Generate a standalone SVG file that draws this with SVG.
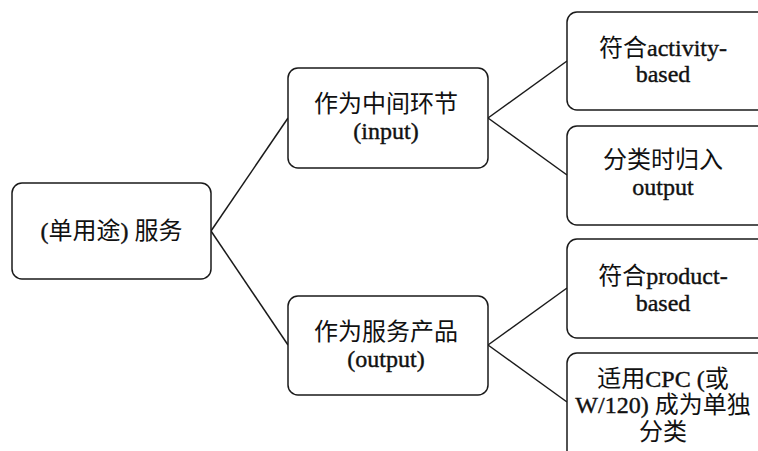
<svg xmlns="http://www.w3.org/2000/svg" width="758" height="451" viewBox="0 0 758 451">
<style>
.box{fill:#fff;stroke:#1a1a1a;stroke-width:1.5}
.t{font-family:"Liberation Serif","Noto Sans CJK SC",serif;font-size:24px;fill:#111;text-anchor:middle}
.l{stroke:#111;stroke-width:0.4}
.c{fill:none;stroke:#1a1a1a;stroke-width:1.5}
</style>
<rect width="758" height="451" fill="#fff"/>
<g id="connectors">
<path class="c" d="M211,231 L288,118"/>
<path class="c" d="M211,231 L288,345"/>
<path class="c" d="M488,118 L567,61"/>
<path class="c" d="M488,118 L567,175"/>
<path class="c" d="M488,345 L567,288"/>
<path class="c" d="M488,345 L567,402"/>
</g>
<g id="root">
<rect class="box" x="12" y="183" width="199" height="96" rx="10"/>
<text class="t" x="111.5" y="239"><tspan class="l">(</tspan>单用途<tspan class="l">)</tspan> 服务</text>
</g>
<g id="input">
<rect class="box" x="288" y="68" width="200" height="100" rx="10"/>
<text class="t" x="386" y="112">作为中间环节</text>
<text class="t l" x="386" y="139">(input)</text>
</g>
<g id="output">
<rect class="box" x="288" y="296" width="200" height="99" rx="10"/>
<text class="t" x="386" y="340">作为服务产品</text>
<text class="t l" x="386" y="367">(output)</text>
</g>
<g id="leaf1">
<rect class="box" x="567" y="12" width="200" height="98" rx="10"/>
<text class="t" x="663" y="56">符合<tspan class="l">activity-</tspan></text>
<text class="t l" x="663" y="82">based</text>
</g>
<g id="leaf2">
<rect class="box" x="567" y="126" width="200" height="99" rx="10"/>
<text class="t" x="663" y="168">分类时归入</text>
<text class="t l" x="663" y="195">output</text>
</g>
<g id="leaf3">
<rect class="box" x="567" y="239" width="200" height="99" rx="10"/>
<text class="t" x="663" y="284">符合<tspan class="l">product-</tspan></text>
<text class="t l" x="663" y="311">based</text>
</g>
<g id="leaf4">
<rect class="box" x="567" y="353" width="200" height="110" rx="10"/>
<text class="t" x="663" y="387">适用<tspan class="l">CPC (</tspan>或</text>
<text class="t" x="663" y="413"><tspan class="l">W/120)</tspan> 成为单独</text>
<text class="t" x="663" y="440">分类</text>
</g>
</svg>
